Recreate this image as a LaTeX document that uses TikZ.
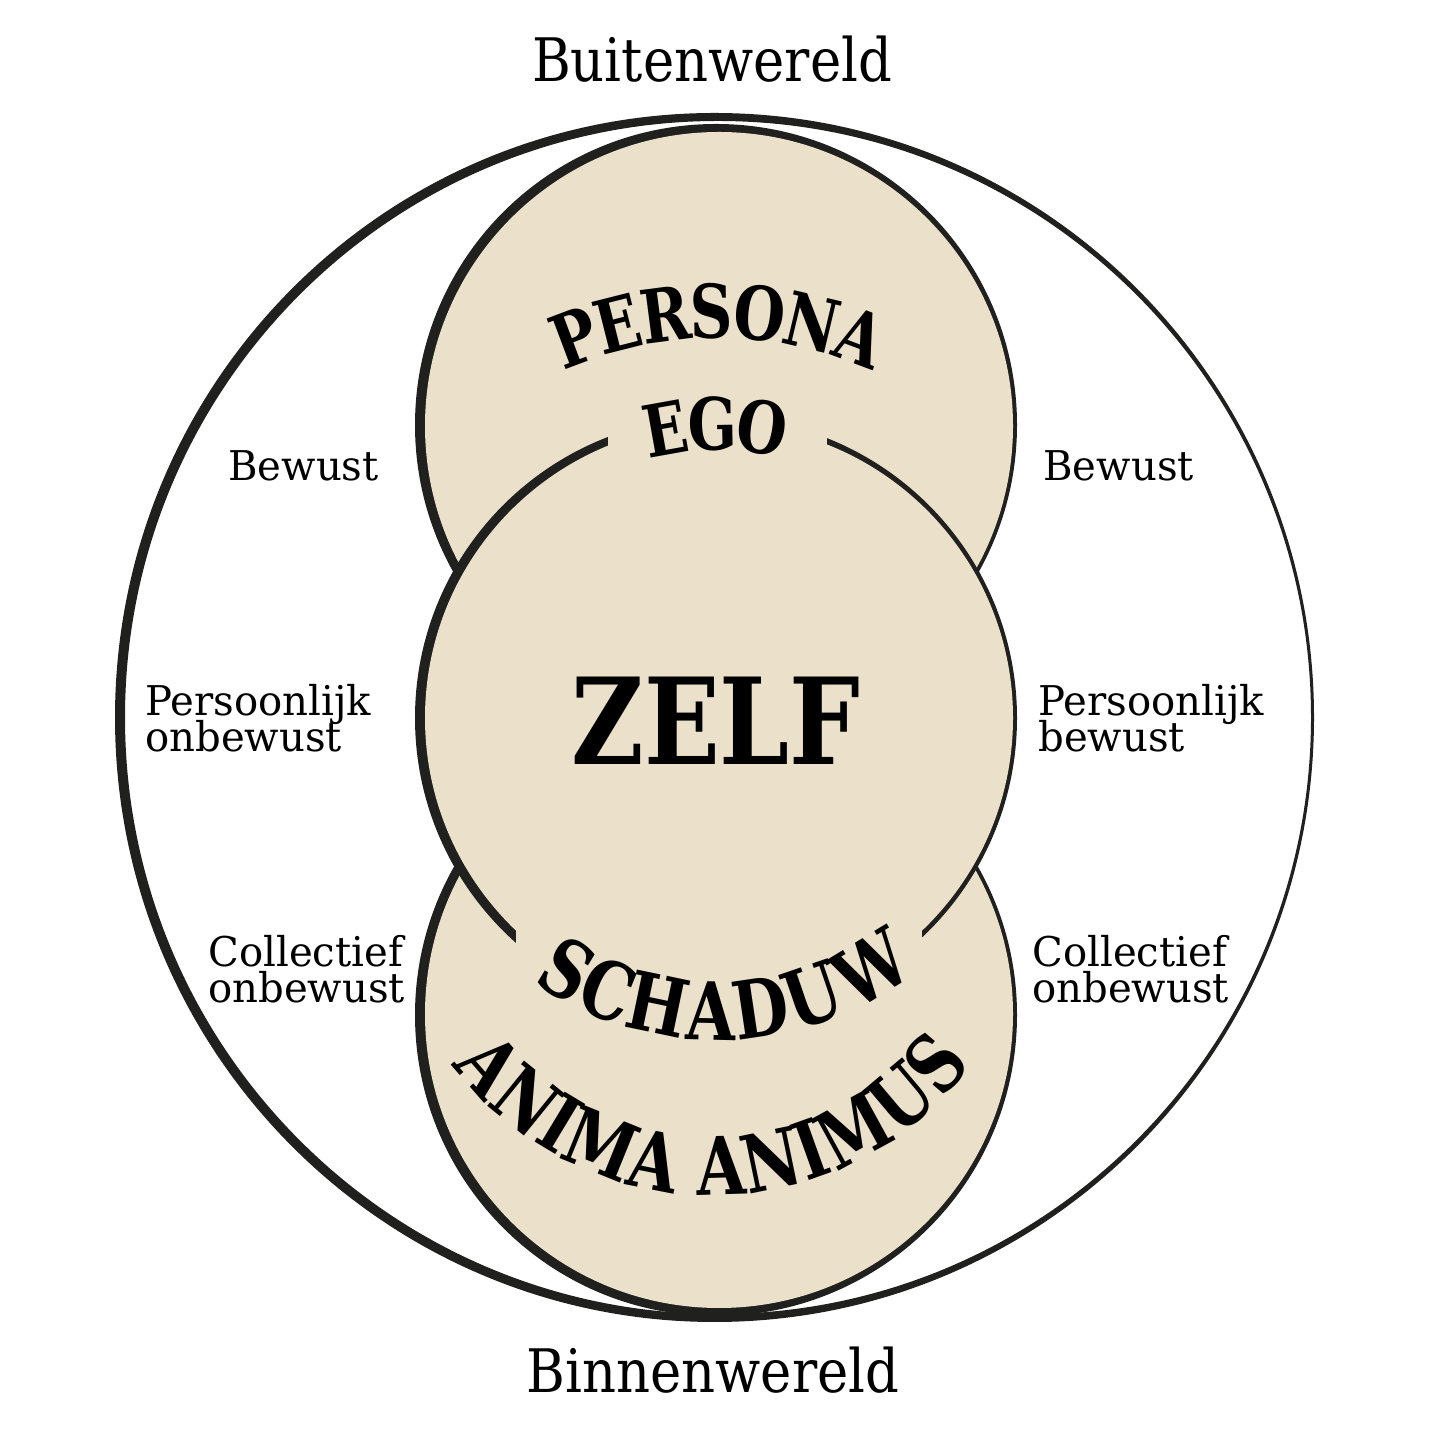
\documentclass[tikz,border=0pt]{standalone}
\usepackage{fontspec}
\newfontfamily\regf{DejaVu Serif}[FakeStretch=0.88]
\newfontfamily\labf{DejaVu Serif}[FakeStretch=0.98]
\newfontfamily\boldf{DejaVu Serif}
\definecolor{beige}{RGB}{235,224,202}
\definecolor{ink}{RGB}{32,32,30}
\tikzset{
  lbl/.style={inner sep=0pt, anchor=base west, font=\labf\fontsize{20.5}{22}\selectfont},
  title/.style={inner sep=0pt, anchor=base, font=\regf\fontsize{30}{32}\selectfont},
  darkdisk/.style={fill=ink},
  paledisk/.style={fill=beige},
  arcletter/.style={inner sep=0pt, anchor=base, font=\boldf\bfseries\fontsize{#1}{#1}\selectfont},
}
\begin{document}
\begin{tikzpicture}[x=0.5pt,y=0.5pt]
\useasboundingbox (0,0) rectangle (1435,1435);
% outer ring
\fill[ink,even odd rule] (714.5,717.5) ellipse [x radius=599.5, y radius=604.5]
  (718,717.5) ellipse [x radius=593, y radius=596.5];
% top circle
\fill[darkdisk] (716,1010) circle [radius=301];
\fill[paledisk] (719,1009) circle [radius=294];
% bottom circle
\fill[darkdisk] (716,420) circle [radius=301];
\fill[paledisk] (719,421) circle [radius=294];
% middle circle
\fill[darkdisk] (716,717) circle [radius=301];
\fill[paledisk] (719,717) circle [radius=294];
% gaps in the middle circle outline
\fill[beige] (608,965) rectangle (827,1030);
\fill[beige] (516,405) rectangle (922,510);
% centres for curved texts
\coordinate (c1) at (718,717);
\coordinate (c2) at (712,563);
% PERSONA
\foreach \ch/\a [count=\i] in {P/110.6,E/104.2,R/97.4,S/90.9,O/84.1,N/76.6,A/69.5}
  \path (c1) ++(\a:380) node[arcletter=37, rotate=\a-90, xscale=0.8, transform shape] (pers\i) {\ch};
% EGO
\foreach \ch/\a [count=\i] in {E/100.2,G/91,O/81.3}
  \path (c1) ++(\a:268) node[arcletter=36, rotate=\a-90, xscale=0.8, transform shape] (ego\i) {\ch};
% SCHADUW
\foreach \ch/\a [count=\i] in {S/239,C/248,H/258.2,A/268.6,D/278.4,U/288.9,W/301.4}
  \path (c1) ++(\a:322) node[arcletter=40, rotate=\a-270, xscale=0.8, transform shape] (scha\i) {\ch};
% ANIMA ANIMUS
\foreach \ch/\a [count=\i] in {A/221,N/230.9,I/238.9,M/247.9,A/258.8,A/271.8,N/281.7,I/289.7,M/298.7,U/310.1,S/319.5}
  \path (c2) ++(\a:323) node[arcletter=40, rotate=\a-270, xscale=0.8, transform shape] (anim\i) {\ch};
% centre
\node[arcletter=60, xscale=0.83, transform shape] (zelf) at (716,670) {ZELF};
% titles
\node[title] (buiten) at (712,1353) {Buitenwereld};
\node[title] (binnen) at (713,42) {Binnenwereld};
% side labels
\node[lbl] (bl) at (228,954) {Bewust};
\node[lbl] (br) at (1043,954) {Bewust};
\node[lbl] (pl1) at (145,719) {Persoonlijk};
\node[lbl] (pl2) at (145,683) {onbewust};
\node[lbl] (pr1) at (1038,719) {Persoonlijk};
\node[lbl] (pr2) at (1038,683) {bewust};
\node[lbl] (cl1) at (208,468) {Collectief};
\node[lbl] (cl2) at (208,432) {onbewust};
\node[lbl] (cr1) at (1032,468) {Collectief};
\node[lbl] (cr2) at (1032,432) {onbewust};
\end{tikzpicture}
\end{document}
